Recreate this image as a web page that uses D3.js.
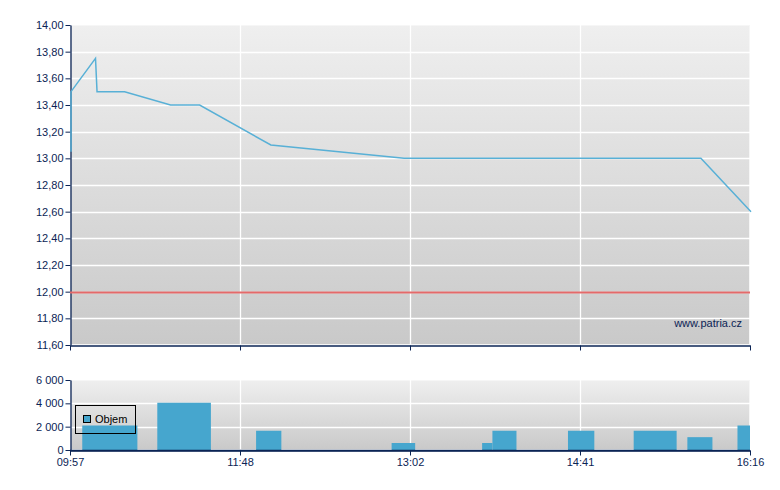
<!DOCTYPE html>
<html><head><meta charset="utf-8">
<script src="https://cdn.jsdelivr.net/npm/d3@7"></script>
<style>body{margin:0;background:#fff}svg{display:block;font-family:"Liberation Sans",Arial,sans-serif}</style>
</head><body><svg id="c" width="780" height="490"></svg>
<script>
// x-axis tick labels (axis is not proportional in time: equal spacing between ticks)
const tickTimes = ["09:57","11:48","13:02","14:41","16:16"];
// price line
const priceTimes  = ["09:57","09:57","10:13","10:14","10:32","11:02","11:21","12:01","12:59","15:48","16:16"];
const priceValues = [13.05, 13.50, 13.75, 13.50, 13.50, 13.40, 13.40, 13.10, 13.00, 13.00, 12.60];
const refPrice = 12.00;
const priceTicks = [11.6,11.8,12.0,12.2,12.4,12.6,12.8,13.0,13.2,13.4,13.6,13.8,14.0];
// volume bars (interval start / end)
const volStart = ["10:05","10:54","11:55","12:54","13:44","13:50","14:34","15:11","15:41","16:09"];
const volEnd   = ["10:41","11:29","12:06","13:05","13:50","14:04","14:49","15:35","15:55","16:16"];
const volValues = [2100, 4050, 1650, 600, 600, 1650, 1650, 1650, 1100, 2100];
const volTicks = [0,2000,4000,6000];

const toMin = s => { const [h,m] = s.split(":").map(Number); return h*60+m; };
const navy = "#0b2455";
const svg = d3.select("#c");
const L = 70, R = 750;
const x = d3.scaleLinear().domain(tickTimes.map(toMin))
  .range(tickTimes.map((d,i)=> L + i*(R-L)/(tickTimes.length-1)));

const defs = svg.append("defs");
const g1 = defs.append("linearGradient").attr("id","bg").attr("x1",0).attr("y1",0).attr("x2",0).attr("y2",1);
g1.append("stop").attr("offset","0%").attr("stop-color","#efefef");
g1.append("stop").attr("offset","100%").attr("stop-color","#c9c9c9");

const fmtP = v => d3.format(".2f")(v).replace(".",",");
const fmtV = v => d3.format(",")(v).replace(/,/g," ");

function panel(top, bottom, y, ticks, fmt){
  svg.append("rect").attr("x",L).attr("y",top).attr("width",R-L).attr("height",bottom-top).attr("fill","url(#bg)");
  svg.append("rect").attr("x",L+0.5).attr("y",top+0.5).attr("width",R-L-1).attr("height",bottom-top-1)
    .attr("fill","none").attr("stroke","#f6f6f6");
  const grid = svg.append("g");
  grid.selectAll("line.h").data(ticks.slice(1,-1)).join("line")
    .attr("x1",L).attr("x2",R).attr("y1",d=>Math.round(y(d))+0.5).attr("y2",d=>Math.round(y(d))+0.5)
    .attr("stroke","#fff").attr("stroke-width",1.3);
  grid.selectAll("line.v").data(tickTimes.slice(1,-1)).join("line")
    .attr("x1",d=>Math.round(x(toMin(d)))+0.5).attr("x2",d=>Math.round(x(toMin(d)))+0.5)
    .attr("y1",top).attr("y2",bottom).attr("stroke","#fff").attr("stroke-width",1.3);
  const ay = svg.append("g").attr("transform",`translate(${L+0.5},0)`)
    .call(d3.axisLeft(y).tickValues(ticks).tickFormat(fmt).tickSize(5).tickSizeOuter(0));
  ay.select(".domain").attr("stroke",navy).attr("stroke-width",1.3);
  ay.selectAll(".tick line").attr("stroke",navy);
  ay.selectAll("text").attr("fill",navy).style("font-size","11px").attr("x",-7);
  const ax = svg.append("g").attr("transform",`translate(0,${bottom+0.5})`)
    .call(d3.axisBottom(x).tickValues(tickTimes.map(toMin)).tickFormat(()=> "").tickSize(5).tickSizeOuter(0));
  ax.select(".domain").attr("stroke",navy).attr("stroke-width",1.3);
  ax.selectAll(".tick line").attr("stroke",navy);
  return ax;
}

// price panel
const y1 = d3.scaleLinear().domain([11.6,14.0]).range([345,25]);
panel(25,345,y1,priceTicks,fmtP);
svg.append("line").attr("x1",L).attr("x2",R).attr("y1",Math.round(y1(refPrice))+0.5).attr("y2",Math.round(y1(refPrice))+0.5)
  .attr("stroke","#e46a6a").attr("stroke-width",1.8);
svg.append("path").datum(priceTimes.map((t,i)=>[toMin(t),priceValues[i]]))
  .attr("d",d3.line().x(d=>x(d[0])+1).y(d=>y1(d[1])))
  .attr("fill","none").attr("stroke","#58b0d6").attr("stroke-width",1.5);
svg.append("text").attr("x",742).attr("y",327).attr("text-anchor","end")
  .attr("fill",navy).style("font-size","11px").text("www.patria.cz");

// volume panel
const y2 = d3.scaleLinear().domain([0,6000]).range([450,380]);
const ax2 = panel(380,450,y2,volTicks,fmtV);
ax2.selectAll(".tick text").text((d,i)=>tickTimes[i]).attr("fill",navy).style("font-size","11px").attr("y",8);
svg.append("g").selectAll("rect").data(volValues).join("rect")
  .attr("x",(d,i)=>x(toMin(volStart[i])))
  .attr("width",(d,i)=>x(toMin(volEnd[i]))-x(toMin(volStart[i])))
  .attr("y",d=>y2(d)).attr("height",d=>y2(0)-y2(d)).attr("fill","#46a6ce");
// redraw bottom axis line above bars
svg.append("line").attr("x1",L).attr("x2",R).attr("y1",450.5).attr("y2",450.5).attr("stroke",navy).attr("stroke-width",1.3);

// legend
const lg = svg.append("g");
lg.append("rect").attr("x",75.5).attr("y",405.5).attr("width",60).attr("height",28).attr("fill","none").attr("stroke","#000");
lg.append("rect").attr("x",83.5).attr("y",415.5).attr("width",7).attr("height",7).attr("fill","#46a6ce").attr("stroke","#000");
lg.append("text").attr("x",95).attr("y",423).attr("fill","#000").style("font-size","11px").text("Objem");
</script></body></html>
